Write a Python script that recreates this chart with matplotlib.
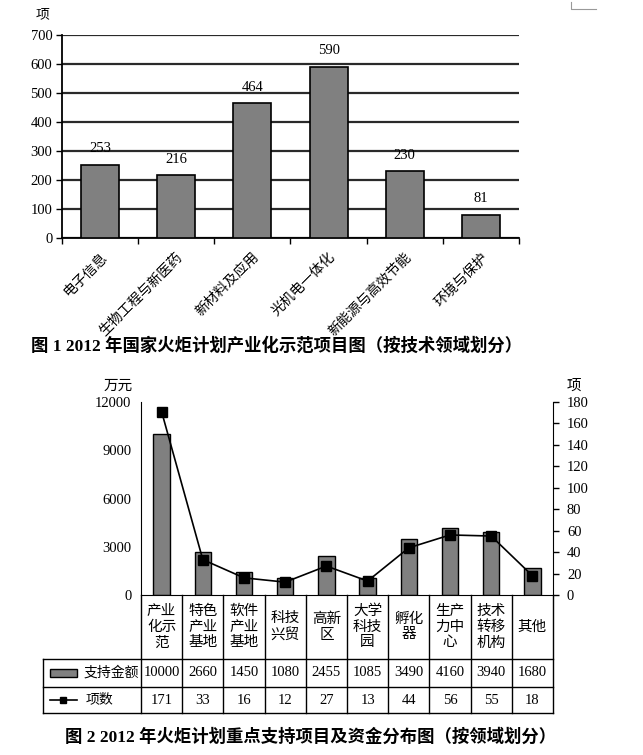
import matplotlib
matplotlib.use("Agg")
import matplotlib.pyplot as plt
import matplotlib.patches as mpatches
import numpy as np

plt.rcParams['font.family'] = ['Liberation Serif', 'Noto Sans CJK SC']

# 图1 数据
fields = ['电子信息', '生物工程与新医药', '新材料及应用', '光机电一体化', '新能源与高效节能', '环境与保护']
field_counts = [253, 216, 464, 590, 230, 81]

# 图2 数据
areas = ['产业\n化示\n范', '特色\n产业\n基地', '软件\n产业\n基地', '科技\n兴贸', '高新\n区',
         '大学\n科技\n园', '孵化\n器', '生产\n力中\n心', '技术\n转移\n机构', '其他']
funds = [10000, 2660, 1450, 1080, 2455, 1085, 3490, 4160, 3940, 1680]
projects = [171, 33, 16, 12, 27, 13, 44, 56, 55, 18]

W, H = 643, 755
BAR = '#808080'


def rect(x0, y0, x1, y1):
    # 像素框 -> figure 坐标
    return [x0 / W, 1 - y1 / H, (x1 - x0) / W, (y1 - y0) / H]


fig = plt.figure(figsize=(W / 100, H / 100), dpi=100)

# ---------------- 图1 ----------------
ax1 = fig.add_axes(rect(62, 35, 519, 238))
x1 = np.arange(len(fields))
ax1.bar(x1, field_counts, width=0.5, color=BAR, edgecolor='black', linewidth=1.2, zorder=3)
for xi, v in zip(x1, field_counts):
    ax1.annotate(str(v), (xi, v), xytext=(0, 7), textcoords='offset points',
                 ha='center', va='bottom', fontsize=10.5)
ax1.set_xlim(-0.5, len(fields) - 0.5)
ax1.set_ylim(0, 700)
ax1.set_yticks(np.arange(0, 701, 100))
ax1.yaxis.grid(True, color='#2a2a2a', linewidth=1.6, zorder=0)
ax1.set_axisbelow(True)
ax1.set_xticks(np.arange(-0.5, len(fields)), [''] * (len(fields) + 1))
ax1.set_xticks(x1, fields, minor=True)
ax1.tick_params(axis='x', which='major', length=4, width=1, direction='out')
ax1.tick_params(axis='x', which='minor', length=0, pad=9)
ax1.tick_params(axis='y', length=4, width=1, pad=3, labelsize=10.5)
for lab in ax1.get_xticklabels(minor=True):
    lab.set_rotation(45)
    lab.set_ha('right')
    lab.set_va('top')
    lab.set_rotation_mode('anchor')
    lab.set_fontsize(10)
for s in ['top', 'right']:
    ax1.spines[s].set_visible(False)
ax1.spines['left'].set_linewidth(1.3)
ax1.spines['bottom'].set_linewidth(1.3)
fig.text(43 / W, 1 - 15 / H, '项', ha='center', va='center', fontsize=10)
fig.text(277 / W, 1 - 346 / H, '图 1 2012 年国家火炬计划产业化示范项目图（按技术领域划分）',
         ha='center', va='center', fontsize=12.5, fontweight='bold')

# 角落的小标记
fig.add_artist(plt.Line2D([571 / W, 571 / W, 596 / W], [1 - 2 / H, 1 - 9 / H, 1 - 9 / H],
                          color='#999999', linewidth=0.8))

# ---------------- 图2 ----------------
ax2 = fig.add_axes(rect(141, 402, 553, 595))
x2 = np.arange(len(areas))
ax2.bar(x2, funds, width=0.4, color=BAR, edgecolor='black', linewidth=1)
ax2.set_xlim(-0.5, len(areas) - 0.5)
ax2.set_ylim(0, 12000)
ax2.set_yticks(np.arange(0, 12001, 3000))
ax2.tick_params(axis='y', length=0, pad=7, labelsize=10.5)
ax2.set_xticks([])
for s in ['top', 'right']:
    ax2.spines[s].set_visible(False)

ax3 = ax2.twinx()
ax3.plot(x2, projects, color='black', linewidth=1.2, marker='s', markersize=6.5)
ax3.set_ylim(0, 180)
ax3.set_yticks(np.arange(0, 181, 20))
ax3.tick_params(axis='y', length=4, width=1, pad=6, labelsize=10.5)
for s in ['top', 'left', 'bottom']:
    ax3.spines[s].set_visible(False)

fig.text(133 / W, 1 - 386 / H, '万元', ha='right', va='center', fontsize=10.5)
fig.text(567 / W, 1 - 386 / H, '项', ha='left', va='center', fontsize=10.5)

# 数据表
tr = ax2.get_xaxis_transform()
ax_h = 595 - 402
col_w = (553 - 141) / len(areas)


def yax(py):
    return (595 - py) / ax_h


def xd(px):
    return -0.5 + (px - 141) / col_w


lw = 1
y_head, y_r1, y_r2 = yax(659), yax(687), yax(713)
x_left = xd(43)
for b in np.arange(-0.5, len(areas)):
    ax2.plot([b, b], [0, y_r2], transform=tr, color='black', lw=lw, clip_on=False)
ax2.plot([x_left, x_left], [y_head, y_r2], transform=tr, color='black', lw=lw, clip_on=False)
for yy in [y_head, y_r1, y_r2]:
    ax2.plot([x_left, len(areas) - 0.5], [yy, yy], transform=tr, color='black', lw=lw, clip_on=False)

for xi, name, f, p in zip(x2, areas, funds, projects):
    ax2.text(xi, yax(627), name, transform=tr, ha='center', va='center',
             fontsize=10.5, linespacing=1.25, multialignment='center')
    ax2.text(xi, yax(673), str(f), transform=tr, ha='center', va='center', fontsize=10.5)
    ax2.text(xi, yax(700), str(p), transform=tr, ha='center', va='center', fontsize=10.5)

# 表内图例
ax2.add_patch(mpatches.Rectangle((xd(50), yax(677)), xd(77) - xd(50), yax(669) - yax(677),
                                 transform=tr, facecolor=BAR, edgecolor='black', lw=1, clip_on=False))
ax2.text(xd(84), yax(673), '支持金额', transform=tr, ha='left', va='center', fontsize=10)
ax2.plot([xd(50), xd(77)], [yax(700), yax(700)], transform=tr, color='black', lw=1.2, clip_on=False)
ax2.plot([xd(63.5)], [yax(700)], transform=tr, color='black', marker='s', markersize=5, clip_on=False)
ax2.text(xd(86), yax(700), '项数', transform=tr, ha='left', va='center', fontsize=10)

fig.text(311 / W, 1 - 737 / H, '图 2 2012 年火炬计划重点支持项目及资金分布图（按领域划分）',
         ha='center', va='center', fontsize=12.5, fontweight='bold')

fig.savefig('out.png', dpi=100)
